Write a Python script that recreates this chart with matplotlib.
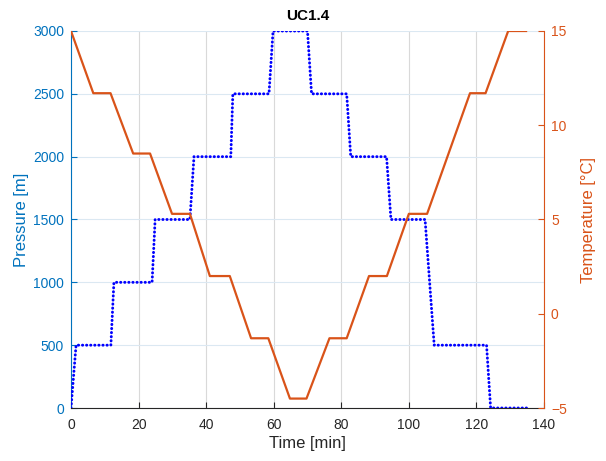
import matplotlib
matplotlib.use("Agg")
import matplotlib.pyplot as plt

plt.rcParams['font.family'] = ['Liberation Sans', 'DejaVu Sans']

# Pressure profile (time in min, pressure in m)
p_time = [0, 1.5, 11.8, 12.7, 24.0, 24.9, 35.2, 36.4, 47.3, 47.9, 58.6, 59.8,
          70.0, 71.2, 81.6, 82.8, 93.4, 94.7, 104.8, 107.5, 123.0, 124.2, 134.9]
p_val = [0, 500, 500, 1000, 1000, 1500, 1500, 2000, 2000, 2500, 2500, 3000,
         3000, 2500, 2500, 2000, 2000, 1500, 1500, 500, 500, 0, 0]

# Temperature profile (time in min, temperature in °C)
t_time = [0, 6.6, 11.7, 18.4, 23.4, 29.9, 35.2, 41.1, 47.0, 53.3, 58.4, 64.8,
          69.7, 76.5, 81.6, 88.2, 93.5, 100.0, 105.4, 118.1, 122.7, 129.4, 134.7]
t_val = [15, 11.7, 11.7, 8.5, 8.5, 5.3, 5.3, 2.0, 2.0, -1.3, -1.3, -4.5,
         -4.5, -1.3, -1.3, 2.0, 2.0, 5.3, 5.3, 11.7, 11.7, 15, 15]

x_ticks = [0, 20, 40, 60, 80, 100, 120, 140]
p_ticks = [0, 500, 1000, 1500, 2000, 2500, 3000]
t_ticks = [-5, 0, 5, 10, 15]

blue_ax = (0.0, 0.447, 0.741)
orange = (0.85, 0.325, 0.098)
dark = (0.15, 0.15, 0.15)

fig = plt.figure(figsize=(6.06, 4.61), dpi=100)
ax = fig.add_axes([71/606, 1-408/461, (544-71)/606, (408-31)/461])
ax2 = ax.twinx()

ax.plot(p_time, p_val, color=(0, 0, 1), lw=2.1, linestyle=(0, (0.1, 1.3)),
        dash_capstyle='round', zorder=3)
ax2.plot(t_time, t_val, color=orange, lw=1.6, zorder=3)

ax.set_xlim(0, 140)
ax.set_ylim(0, 3000)
ax2.set_ylim(-5, 15)
ax.set_xticks(x_ticks)
ax.set_yticks(p_ticks)
ax2.set_yticks(t_ticks)

ax.grid(True, axis='x', color=(0.85, 0.85, 0.85), lw=0.8)
ax.grid(True, axis='y', color=(0.86, 0.91, 0.95), lw=0.8)
ax.set_axisbelow(True)

for a in (ax, ax2):
    a.spines['top'].set_visible(False)
ax.spines['left'].set_color(blue_ax)
ax.spines['right'].set_visible(False)
ax2.spines['left'].set_visible(False)
ax2.spines['right'].set_color(orange)
ax2.spines['bottom'].set_visible(False)
ax.spines['bottom'].set_color(dark)

ax.tick_params(axis='x', direction='in', colors=dark, labelsize=10, length=4, pad=7, labelcolor=dark)
ax.tick_params(axis='y', direction='in', colors=blue_ax, labelsize=10, length=4, pad=5)
ax2.tick_params(axis='y', direction='in', colors=orange, labelsize=10, length=4, pad=5)

ax.set_xlabel('Time [min]', fontsize=12, color=dark, labelpad=3)
ax.set_ylabel('Pressure [m]', fontsize=12, color=blue_ax, labelpad=3)
ax2.set_ylabel('Temperature [°C]', fontsize=12, color=orange, labelpad=10)
ax.set_title('UC1.4', fontsize=11, fontweight='bold', color='black', pad=8)

fig.savefig('out.png', dpi=100)
